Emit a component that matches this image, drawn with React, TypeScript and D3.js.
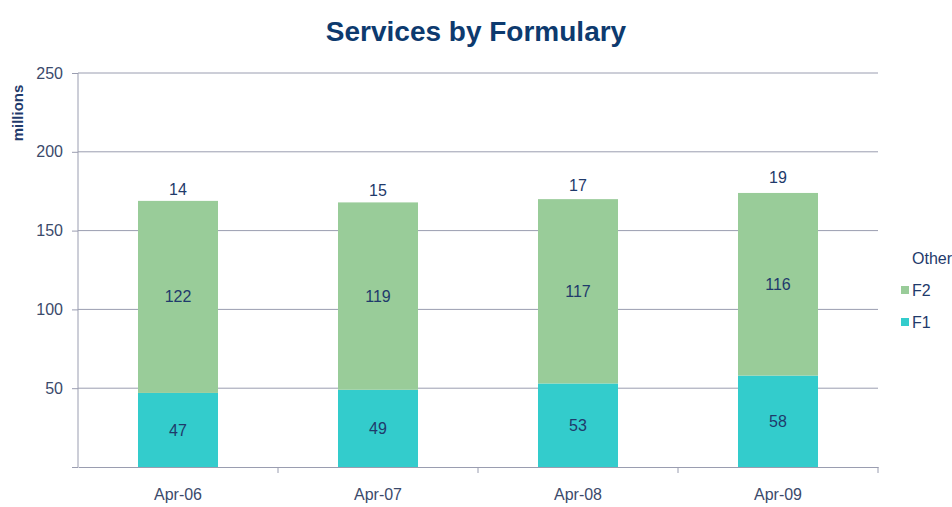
import React, { useEffect, useRef } from 'react';
import * as d3 from 'd3';

const categories = ['Apr-06', 'Apr-07', 'Apr-08', 'Apr-09'];
const f1 = [47, 49, 53, 58];
const f2 = [122, 119, 117, 116];
const other = [14, 15, 17, 19];
const yTicks = [0, 50, 100, 150, 200, 250];
const seriesKeys = ['F1', 'F2', 'Other'];

const colors: Record<string, string> = { F1: '#33cccc', F2: '#99cc99', Other: '#ffffff' };
const textColor = '#1f3a6b';
const font = '"Liberation Sans Narrow", "Arial Narrow", "Liberation Sans", sans-serif';

export default function App() {
    const ref = useRef<SVGSVGElement>(null);

    useEffect(() => {
        const width = 952;
        const height = 507;
        const m = { t: 73, b: 40, l: 78, r: 74 };
        const plotW = width - m.l - m.r;
        const plotH = height - m.t - m.b;

        const rows = categories.map((c, i) => ({ cat: c, F1: f1[i], F2: f2[i], Other: other[i] }));
        const stacked = d3.stack<any>().keys(seriesKeys)(rows);

        const svg = d3.select(ref.current);
        svg.selectAll('*').remove();

        const x = d3.scaleBand().domain(categories).range([0, plotW]).paddingInner(0.6).paddingOuter(0.3);
        const y = d3.scaleLinear().domain([0, 250]).range([plotH, 0]);
        const step = x.step();

        const g = svg.append('g').attr('transform', `translate(${m.l},${m.t})`);

        // gridlines
        g.selectAll('.grid').data(yTicks.filter(t => t > 0)).join('line')
            .attr('x1', 0).attr('x2', plotW)
            .attr('y1', d => y(d)).attr('y2', d => y(d))
            .attr('stroke', '#9a9db0').attr('stroke-width', 1);

        // bars
        const layers = g.selectAll('.layer').data(stacked).join('g')
            .attr('fill', d => colors[d.key]);
        layers.selectAll('rect').data(d => d).join('rect')
            .attr('x', d => x(d.data.cat)!)
            .attr('width', x.bandwidth())
            .attr('y', d => y(d[1]))
            .attr('height', d => y(d[0]) - y(d[1]));

        // value labels
        stacked.forEach(layer => {
            g.selectAll(`.lbl-${layer.key}`).data(layer).join('text')
                .attr('x', d => x(d.data.cat)! + x.bandwidth() / 2)
                .attr('y', d => y((d[0] + d[1]) / 2))
                .attr('dy', '0.35em')
                .attr('text-anchor', 'middle')
                .attr('font-family', font)
                .attr('font-size', 16)
                .attr('fill', textColor)
                .text(d => d[1] - d[0]);
        });

        // y axis
        const yAxis = g.append('g').call(
            d3.axisLeft(y).tickValues(yTicks).tickSize(6).tickPadding(9)
                .tickFormat(d => (d === 0 ? '' : String(d)))
        );
        yAxis.select('.domain').attr('stroke', '#9a9db0').attr('d', `M0,0V${plotH}`);
        yAxis.selectAll('.tick line').attr('stroke', '#9a9db0');
        yAxis.selectAll('text').attr('font-family', font).attr('font-size', 16).attr('fill', '#3b4a6b');

        // x axis
        const xAxis = g.append('g').attr('transform', `translate(0,${plotH})`)
            .call(d3.axisBottom(x).tickSize(0).tickPadding(22));
        xAxis.select('.domain').attr('stroke', '#9a9db0');
        xAxis.selectAll('text').attr('font-family', font).attr('font-size', 16).attr('fill', '#3b4a6b');
        xAxis.selectAll('.sep').data(d3.range(1, categories.length + 1)).join('line')
            .attr('x1', d => d * step).attr('x2', d => d * step)
            .attr('y1', 0).attr('y2', 6)
            .attr('stroke', '#9a9db0');

        // title
        svg.append('text')
            .attr('x', 476).attr('y', 41)
            .attr('text-anchor', 'middle')
            .attr('font-family', font)
            .attr('font-weight', 'bold')
            .attr('font-size', 28)
            .attr('fill', '#0d3a6e')
            .text('Services by Formulary');

        // y label
        svg.append('text')
            .attr('transform', 'translate(23,113) rotate(-90)')
            .attr('text-anchor', 'middle')
            .attr('font-family', font)
            .attr('font-weight', 'bold')
            .attr('font-size', 15)
            .attr('fill', '#1f3a6b')
            .text('millions');

        // legend
        const legend = svg.append('g').attr('transform', 'translate(900,258)');
        const legendKeys = ['Other', 'F2', 'F1'];
        legend.selectAll('rect').data(legendKeys).join('rect')
            .attr('x', 1).attr('y', (d, i) => i * 32 - 4)
            .attr('width', 8).attr('height', 8)
            .attr('fill', d => colors[d]);
        legend.selectAll('text').data(legendKeys).join('text')
            .attr('x', 12).attr('y', (d, i) => i * 32)
            .attr('dy', '0.35em')
            .attr('font-family', font)
            .attr('font-size', 16)
            .attr('fill', '#1f3a6b')
            .text(d => d);
    }, []);

    return (
        <div style={{ position: 'fixed', top: 0, left: 0 }}>
            <svg ref={ref} width={952} height={507} style={{ display: 'block', background: '#fff' }} />
        </div>
    );
}
